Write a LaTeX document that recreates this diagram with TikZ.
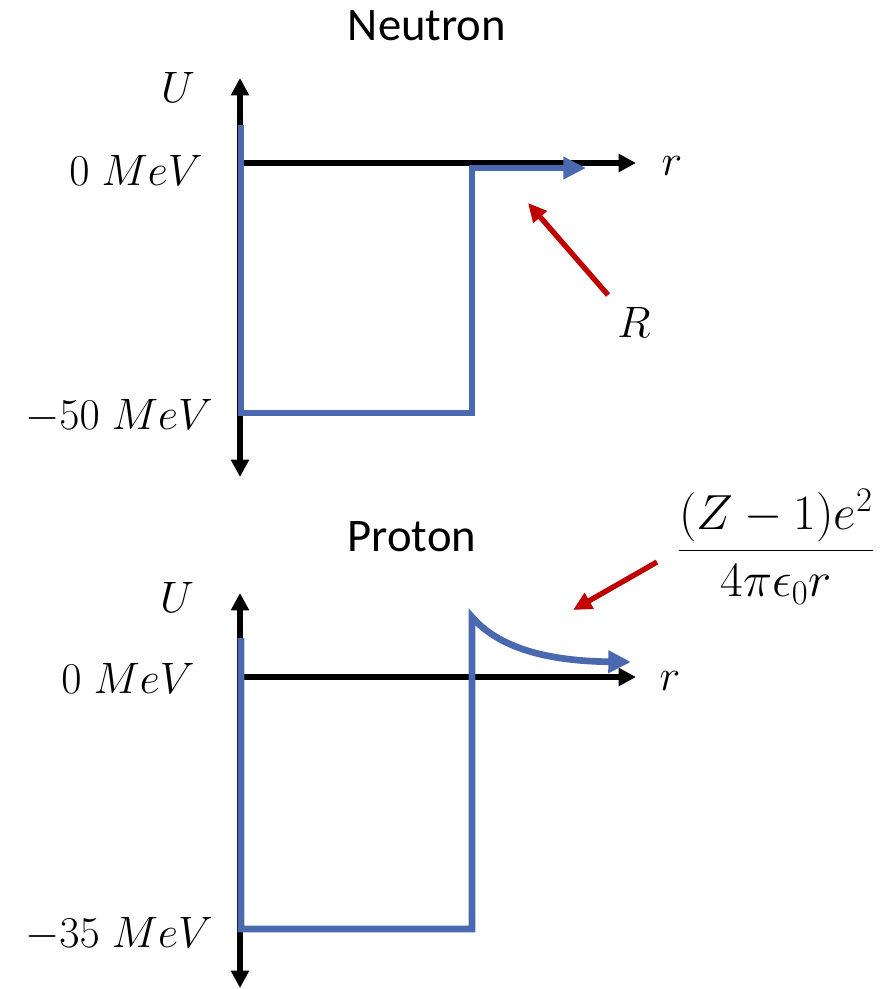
\RequirePackage{fix-cm}
\documentclass[tikz,border=0pt]{standalone}
\usepackage{fontspec}
\usepackage{amsmath}
\newfontfamily\titlefont{Carlito}
\usetikzlibrary{arrows.meta}
\definecolor{potblue}{HTML}{4A69B0}
\definecolor{potred}{HTML}{C00000}
\tikzset{
  axisline/.style={line width=4pt, black, -{Triangle[length=13pt,width=13pt]}},
  axisboth/.style={line width=4pt, black, {Triangle[length=13pt,width=13pt]}-{Triangle[length=13pt,width=13pt]}},
  wellarrow/.style={line width=5pt, potblue, -{Triangle[length=17pt,width=16pt]}},
  pointer/.style={line width=4pt, potred, -{Triangle[length=14pt,width=13pt]}},
  titletext/.style={font=\titlefont\fontsize{35}{42}\selectfont, inner sep=0pt},
  mathtext/.style={font=\fontsize{33}{40}\selectfont, inner sep=0pt},
  fractext/.style={font=\fontsize{37}{44}\selectfont, inner sep=0pt}
}
\begin{document}
\begin{tikzpicture}[x=0.75pt,y=-0.75pt]
\useasboundingbox (0,0) rectangle (882,989);
% ---------- Neutron ----------
\node[titletext] (ntitle) at (427,26) {Neutron};
\node[mathtext] (nU) at (178,87) {$U$};
\node[mathtext] (nzero) at (136,170) {$0\;MeV$};
\node[mathtext] (nfifty) at (119,416) {$-50\;MeV$};
\node[mathtext] (nr) at (672,166) {$r$};
\node[mathtext] (nR) at (634,322) {$R$};
\coordinate (nyt) at (240,78);
\coordinate (nyb) at (240,477);
\coordinate (nxo) at (240,163);
\coordinate (nxe) at (636,163);
\coordinate (nw1) at (241,125);
\coordinate (nw2) at (241,413);
\coordinate (nw3) at (472,413);
\coordinate (nw4) at (472,168);
\coordinate (nw5) at (586,168);
\coordinate (nps) at (608,295);
\coordinate (npe) at (528,203);
\draw[axisboth] (nyb) -- (nyt);
\draw[axisline] (nxo) -- (nxe);
\draw[wellarrow] (nw1) -- (nw2) -- (nw3) -- (nw4) -- (nw5);
\draw[pointer] (nps) -- (npe);
% ---------- Proton ----------
\node[titletext] (ptitle) at (412,537) {Proton};
\node[mathtext] (pU) at (177,597) {$U$};
\node[mathtext] (pzero) at (128,678) {$0\;MeV$};
\node[mathtext] (pthirty) at (119,934) {$-35\;MeV$};
\node[mathtext] (pr) at (670,681) {$r$};
\node[fractext] (pfrac) at (776,547) {$\dfrac{(Z-1)e^2}{4\pi\epsilon_0 r}$};
\coordinate (pyt) at (240,593);
\coordinate (pyb) at (240,988);
\coordinate (pxo) at (240,677);
\coordinate (pxe) at (636,677);
\coordinate (pw1) at (241,638);
\coordinate (pw2) at (241,929);
\coordinate (pw3) at (472,929);
\coordinate (pw4) at (472,617);
\coordinate (pw5) at (631,662);
\coordinate (pps) at (657,562);
\coordinate (ppe) at (573,610);
\draw[axisboth] (pyb) -- (pyt);
\draw[axisline] (pxo) -- (pxe);
\draw[wellarrow] (pw1) -- (pw2) -- (pw3) -- (pw4) .. controls (498,647) and (545,661) .. (pw5);
\draw[pointer] (pps) -- (ppe);
\end{tikzpicture}
\end{document}
